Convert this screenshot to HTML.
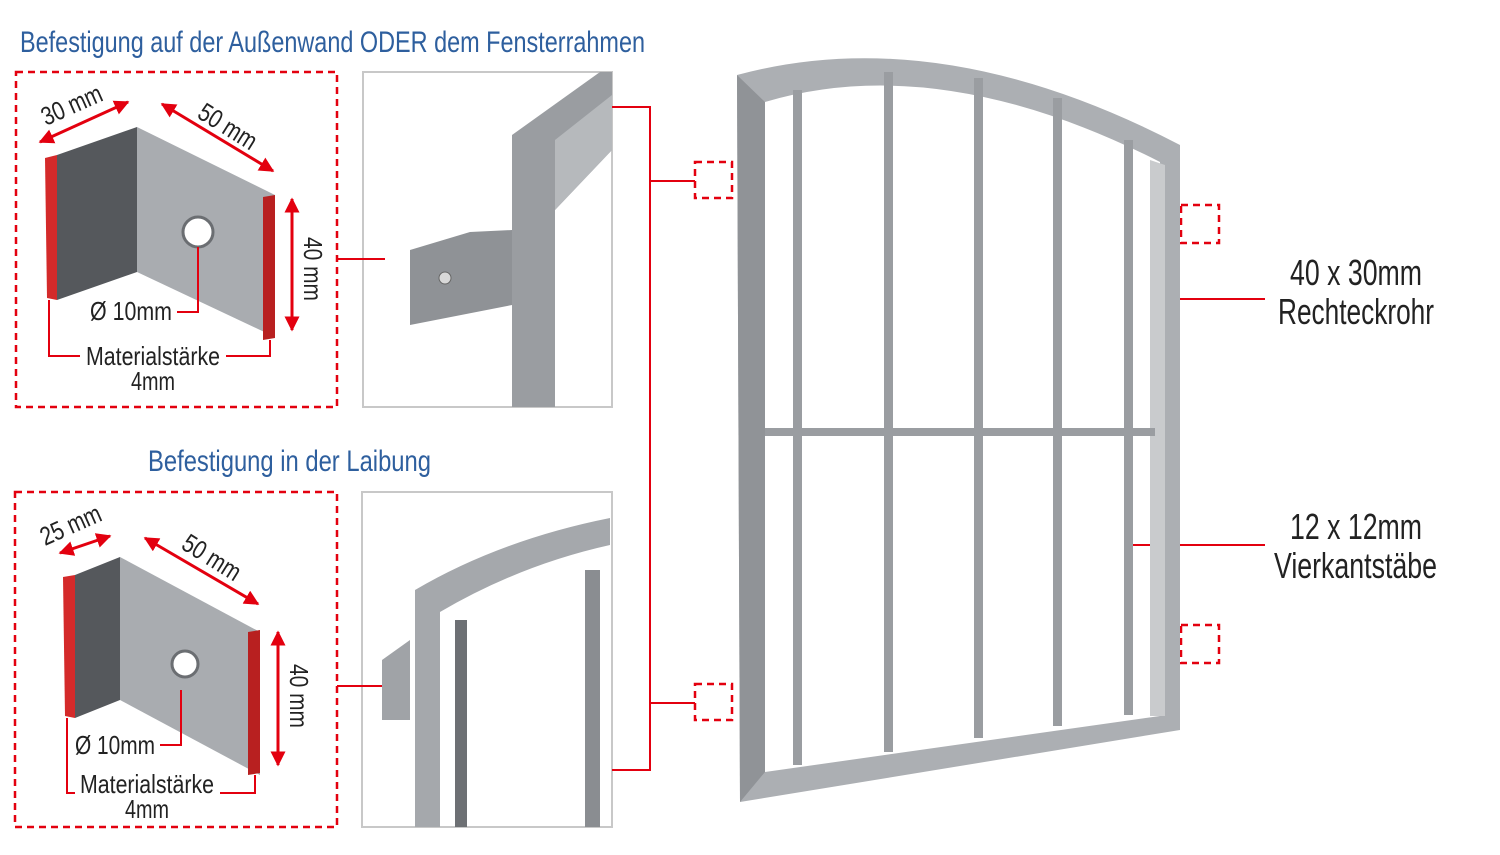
<!DOCTYPE html>
<html><head><meta charset="utf-8"><style>
html,body{margin:0;padding:0;background:#fff}
svg{display:block}
text{font-family:"Liberation Sans Narrow","Liberation Sans",sans-serif}
</style></head><body>
<svg width="1500" height="855" viewBox="0 0 1500 855" xmlns="http://www.w3.org/2000/svg">
<defs>
<marker id="ar" viewBox="0 0 10 10" refX="9" refY="5" markerWidth="5" markerHeight="5" orient="auto-start-reverse"><path d="M0,0L10,5L0,10z" fill="#e3000f"/></marker>
</defs>
<text x="20" y="52" font-size="30" fill="#2e5f9e" textLength="625" lengthAdjust="spacingAndGlyphs">Befestigung auf der Außenwand ODER dem Fensterrahmen</text>
<text x="148" y="471" font-size="30" fill="#2e5f9e" textLength="283" lengthAdjust="spacingAndGlyphs">Befestigung in der Laibung</text>

<g fill="none" stroke="#e3000f" stroke-width="2.5" stroke-dasharray="7,5">
<rect x="16" y="72" width="321" height="335"/>
<rect x="15" y="492" width="322" height="335"/>
<rect x="695" y="162" width="37" height="36"/>
<rect x="695" y="684" width="37" height="36"/>
<rect x="1181" y="205" width="38" height="38"/>
<rect x="1181" y="625" width="38" height="38"/>
</g>
<rect x="363" y="72" width="249" height="335" fill="#fff" stroke="#c8c8c8" stroke-width="2"/>
<rect x="362" y="492" width="250" height="335" fill="#fff" stroke="#c8c8c8" stroke-width="2"/>

<g fill="none" stroke="#e3000f" stroke-width="2">
<path d="M337,259H385"/>
<path d="M337,686H385"/>
<path d="M612,107H650V770H612"/>
<path d="M650,181H695M650,703H695"/>
<path d="M1165,299H1265M1130,545H1265"/>
</g>

<!-- bracket 1 -->
<polygon points="137,127 275,195 275,337 137,272" fill="#a9acb0"/>
<polygon points="57,155 137,127 137,272 57,300" fill="#55585c"/>
<polygon points="45,158 57,155 57,300 47,298" fill="#d42a2a"/>
<polygon points="263,197 275,195 275,338 263,340" fill="#b82020"/>
<circle cx="198" cy="232" r="15" fill="#fff" stroke="#6b6e72" stroke-width="3"/>
<g stroke="#e3000f" stroke-width="3" fill="none">
<line x1="40" y1="142" x2="128" y2="102" marker-start="url(#ar)" marker-end="url(#ar)"/>
<line x1="162" y1="104" x2="273" y2="171" marker-start="url(#ar)" marker-end="url(#ar)"/>
<line x1="292" y1="199" x2="292" y2="330" marker-start="url(#ar)" marker-end="url(#ar)"/>
<path d="M198,247V312H177" stroke-width="2"/>
<path d="M49,300V356H80M226,356H270V340" stroke-width="2"/>
</g>
<text font-size="26" fill="#222" transform="translate(46,126) rotate(-24)" textLength="64" lengthAdjust="spacingAndGlyphs">30 mm</text>
<text font-size="26" fill="#222" transform="translate(196,117) rotate(32)" textLength="64" lengthAdjust="spacingAndGlyphs">50 mm</text>
<text font-size="26" fill="#222" transform="translate(304,237) rotate(90)" textLength="64" lengthAdjust="spacingAndGlyphs">40 mm</text>
<text x="90" y="320" font-size="26" fill="#222" textLength="82" lengthAdjust="spacingAndGlyphs">Ø 10mm</text>
<text x="86" y="365" font-size="26" fill="#222" textLength="134" lengthAdjust="spacingAndGlyphs">Materialstärke</text>
<text x="131" y="390" font-size="26" fill="#222" textLength="44" lengthAdjust="spacingAndGlyphs">4mm</text>

<!-- bracket 2 -->
<polygon points="120,557 260,632 260,775 120,700" fill="#a9acb0"/>
<polygon points="75,575 120,557 120,700 75,718" fill="#55585c"/>
<polygon points="63,577 75,575 75,718 65,716" fill="#d42a2a"/>
<polygon points="248,632 260,630 260,773 248,775" fill="#b82020"/>
<circle cx="185" cy="664" r="13" fill="#fff" stroke="#6b6e72" stroke-width="3"/>
<g stroke="#e3000f" stroke-width="3" fill="none">
<line x1="60" y1="553" x2="110" y2="536" marker-start="url(#ar)" marker-end="url(#ar)"/>
<line x1="145" y1="538" x2="258" y2="604" marker-start="url(#ar)" marker-end="url(#ar)"/>
<line x1="278" y1="632" x2="278" y2="765" marker-start="url(#ar)" marker-end="url(#ar)"/>
<path d="M181,690V745H160" stroke-width="2"/>
<path d="M67,718V793H75M220,793H255V775" stroke-width="2"/>
</g>
<text font-size="26" fill="#222" transform="translate(45,546) rotate(-24)" textLength="64" lengthAdjust="spacingAndGlyphs">25 mm</text>
<text font-size="26" fill="#222" transform="translate(180,548) rotate(32)" textLength="64" lengthAdjust="spacingAndGlyphs">50 mm</text>
<text font-size="26" fill="#222" transform="translate(290,664) rotate(90)" textLength="64" lengthAdjust="spacingAndGlyphs">40 mm</text>
<text x="75" y="754" font-size="26" fill="#222" textLength="80" lengthAdjust="spacingAndGlyphs">Ø 10mm</text>
<text x="80" y="793" font-size="26" fill="#222" textLength="134" lengthAdjust="spacingAndGlyphs">Materialstärke</text>
<text x="125" y="818" font-size="26" fill="#222" textLength="44" lengthAdjust="spacingAndGlyphs">4mm</text>

<!-- photo 1 -->
<polygon points="512,135 600,72 612,72 612,150 555,210 555,407 512,407" fill="#9a9da1"/>
<polygon points="555,140 612,95 612,150 555,210" fill="#b6b9bc"/>
<polygon points="410,250 470,232 512,230 512,305 410,325" fill="#8f9296"/>
<circle cx="445" cy="278" r="6" fill="#d8d8d8" stroke="#666"/>

<!-- photo 2 -->
<path d="M415,590 Q500,540 610,518 L610,545 Q520,565 440,612 L440,827 L415,827Z" fill="#a5a8ac"/>
<rect x="455" y="620" width="12" height="207" fill="#6d7074"/>
<rect x="585" y="570" width="15" height="257" fill="#8a8d91"/>
<polygon points="382,660 410,640 410,720 382,720" fill="#a0a3a7"/>

<!-- main frame -->
<path fill-rule="evenodd" fill="#acafb3" d="M737,75 Q940,20 1180,145 L1180,730 L740,802 Z M765,102 L765,772 L1160,716 L1160,162 Q940,50 765,102 Z"/>
<path d="M737,75 L765,102 L765,772 L740,802 Z" fill="#909397"/>
<path d="M1150,160 L1165,165 L1165,716 L1150,716Z" fill="#c9cbcd"/>
<g fill="#9a9da1">
<rect x="793" y="90" width="9" height="675"/>
<rect x="884" y="72" width="9" height="680"/>
<rect x="974" y="78" width="9" height="660"/>
<rect x="1053" y="98" width="9" height="628"/>
<rect x="1124" y="140" width="9" height="575"/>
<rect x="765" y="428" width="390" height="8"/>
</g>

<text x="1290" y="285" font-size="36" fill="#222" textLength="132" lengthAdjust="spacingAndGlyphs">40 x 30mm</text>
<text x="1278" y="324" font-size="36" fill="#222" textLength="156" lengthAdjust="spacingAndGlyphs">Rechteckrohr</text>
<text x="1290" y="539" font-size="36" fill="#222" textLength="132" lengthAdjust="spacingAndGlyphs">12 x 12mm</text>
<text x="1274" y="578" font-size="36" fill="#222" textLength="163" lengthAdjust="spacingAndGlyphs">Vierkantstäbe</text>
</svg>
</body></html>
